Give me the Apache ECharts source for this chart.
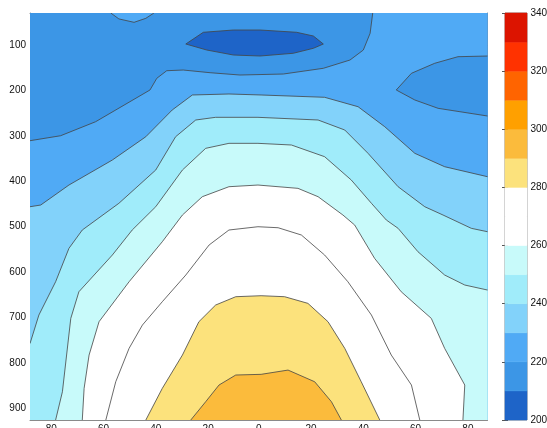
<!DOCTYPE html>
<html>
<head>
<meta charset="utf-8">
<script src="https://cdn.jsdelivr.net/npm/echarts@6/dist/echarts.min.js"></script>
<style>
html, body { margin: 0; padding: 0; background: #fff; }
#main { width: 547px; height: 428px; }
</style>
</head>
<body>
<div id="main"></div>
<script>
// 等值线区间与配色（色标从下往上）
var levels = [200, 210, 220, 230, 240, 250, 260, 270, 280, 290, 300, 310, 320, 330, 340];
var bandColors = ['#1e64c8', '#3c96e6', '#50aaf5', '#82d2fa', '#a0ecfa', '#c8fafa', '#ffffff', '#ffffff',
    '#fce27c', '#fbbb3c', '#ffa000', '#ff6400', '#ff3200', '#dc1400'];

// 坐标轴刻度
var latTicks = [-80, -60, -40, -20, 0, 20, 40, 60, 80];
var presTicks = [100, 200, 300, 400, 500, 600, 700, 800, 900];
var latRange = [-87.5, 87.5];
var presRange = [30, 925];

// 等值线 [纬度, 气压]
var c210 = [[-27.9, 98.2], [-21.2, 72.4], [-9.7, 67.4], [0.5, 67.4], [14.5, 72.4], [20.9, 80.6], [24.7, 98.2],
    [20.9, 107.6], [13.2, 118.6], [0.5, 124.6], [-9.7, 122.4], [-19.9, 111.4], [-27.9, 98.2]];
var c220 = [[-87.5, 310.8], [-75.8, 299.9], [-62.4, 269.1], [-41.6, 199.3], [-39.0, 173.6], [-35.2, 156.9],
    [-28.9, 155.4], [-18.6, 161.3], [-7.2, 166.4], [9.4, 164.2], [24.7, 151.6], [34.9, 133.4], [40.0, 111.4],
    [42.6, 74.6], [43.6, 30]];
var c220arc = [[-56.6, 30], [-53.5, 43], [-47.7, 50.5], [-43.2, 41.7], [-40.1, 30]];
var c220isle = [[87.5, 124.6], [76.2, 126.1], [67.3, 140.6], [58.4, 162.6], [52.6, 199.3], [59.7, 221.3],
    [68.6, 239.6], [87.5, 256.5]];
var c230 = [[-87.5, 456.0], [-83.4, 452.3], [-72.6, 408.3], [-56.0, 353.3], [-43.2, 302.1], [-33.1, 243.3],
    [-25.4, 210.3], [-11.4, 208.1], [0.9, 210.3], [25.2, 215.4], [38.0, 236.1], [48.2, 280.1], [59.7, 338.6],
    [71.1, 368.0], [87.5, 390.0]];
var c240 = [[-87.5, 756.9], [-84.1, 694.2], [-77.7, 621.0], [-72.6, 547.5], [-67.5, 507.2], [-53.5, 448.5],
    [-39.4, 375.3], [-31.8, 302.1], [-24.1, 265.3], [-16.5, 259.4], [-0.3, 259.4], [22.7, 265.3], [32.9, 287.3],
    [41.8, 338.6], [53.3, 412.0], [63.5, 456.0], [70.5, 474.3], [81.3, 503.5], [87.5, 511.0]];
var c250 = [[-77.7, 925], [-75.1, 862.9], [-71.9, 701.5], [-68.8, 643.0], [-56.0, 562.2], [-48.4, 507.2],
    [-39.4, 456.0], [-29.2, 375.3], [-20.3, 327.6], [-11.4, 316.6], [-0.3, 316.6], [12.5, 320.3], [25.2, 346.0],
    [35.4, 397.3], [43.1, 448.5], [48.8, 485.2], [53.3, 503.5], [60.9, 555.0], [71.1, 606.2], [78.8, 628.2],
    [87.5, 639.2]];
var c260 = [[-67.5, 925], [-66.8, 855.4], [-64.9, 782.2], [-61.1, 708.9], [-49.6, 621.0], [-36.9, 533.0],
    [-29.2, 474.3], [-21.6, 434.0], [-11.4, 412.0], [-0.3, 408.3], [15.0, 415.6], [22.7, 434.0], [32.2, 474.3],
    [36.7, 496.3], [44.3, 569.5], [54.5, 643.0], [66.0, 701.5], [71.1, 767.4], [78.8, 848.1], [78.1, 925]];
var c270 = [[-58.5, 925], [-54.7, 840.9], [-49.6, 767.4], [-44.5, 716.2], [-36.9, 664.9], [-27.9, 606.2],
    [-19.0, 540.2], [-11.4, 507.2], [-0.3, 500.0], [7.4, 502.2], [16.3, 518.2], [25.2, 562.2], [34.1, 621.0],
    [43.1, 694.2], [50.7, 782.2], [58.4, 848.1], [61.6, 925]];
var c280 = [[-43.2, 925], [-36.9, 855.4], [-29.2, 782.2], [-22.9, 708.9], [-16.5, 672.2], [-8.8, 653.9],
    [0.9, 651.7], [9.9, 653.9], [18.8, 668.5], [26.5, 708.9], [32.9, 767.4], [39.2, 840.9], [46.3, 925]];
var c290 = [[-26.0, 925], [-20.3, 884.8], [-15.2, 848.1], [-8.8, 826.1], [0.9, 824.6], [11.2, 815.2],
    [21.4, 840.9], [27.8, 884.8], [31.6, 925]];

function band(v) {
    return bandColors[levels.indexOf(v)];
}

var L0 = latRange[0], L1 = latRange[1], P0 = presRange[0], P1 = presRange[1];

// 填色区域（按顺序覆盖）
var fills = [
    {pts: [[L0, P0], [L1, P0], [L1, P1], [L0, P1]], color: band(210)},
    {pts: c210, color: band(200)},
    {pts: c220.concat([[L1, P0], [L1, P1], [L0, P1]]), color: band(220)},
    {pts: c220arc, color: band(220)},
    {pts: c220isle, color: band(210)},
    {pts: c230.concat([[L1, P1], [L0, P1]]), color: band(230)},
    {pts: c240.concat([[L1, P1], [L0, P1]]), color: band(240)},
    {pts: c250.concat([[L1, P1]]), color: band(250)},
    {pts: c260, color: band(260)},
    {pts: c270, color: band(270)},
    {pts: c280, color: band(280)},
    {pts: c290, color: band(290)}
];
var lines = [c210, c220, c220arc, c220isle, c230, c240, c250, c260, c270, c280, c290];

var chart = echarts.init(document.getElementById('main'));
var font = 'Liberation Sans, Arial, sans-serif';
var labelStyle = {fontSize: 10, color: '#111', fontFamily: font};
var tickStyle = {color: '#777', width: 1};
var frameLine = {show: true, onZero: false, lineStyle: {color: '#8a8a8a', width: 1}};

var option = {
    animation: false,
    grid: [
        {left: 30, right: 59.5, top: 13, bottom: 8, outerBoundsMode: 'none'},
        {left: 505, width: 22, top: 13, bottom: 8, outerBoundsMode: 'none',
            show: true, borderColor: '#8a8a8a', borderWidth: 1}
    ],
    xAxis: [
        {
            type: 'value', gridIndex: 0, min: L0, max: L1, position: 'bottom',
            axisLine: frameLine, splitLine: {show: false},
            axisTick: {inside: true, length: 5, lineStyle: tickStyle, customValues: latTicks},
            axisLabel: Object.assign({margin: 4, customValues: latTicks}, labelStyle)
        },
        {
            type: 'value', gridIndex: 0, min: L0, max: L1, position: 'top',
            axisLine: frameLine, splitLine: {show: false},
            axisTick: {inside: true, length: 5, lineStyle: tickStyle, customValues: latTicks},
            axisLabel: {show: false}
        },
        {type: 'value', gridIndex: 1, min: 0, max: 1, show: false}
    ],
    yAxis: [
        {
            type: 'value', gridIndex: 0, min: P0, max: P1, inverse: true, position: 'left',
            axisLine: frameLine, splitLine: {show: false},
            axisTick: {inside: true, length: 5, lineStyle: tickStyle, customValues: presTicks},
            axisLabel: Object.assign({margin: 4, customValues: presTicks}, labelStyle)
        },
        {
            type: 'value', gridIndex: 0, min: P0, max: P1, inverse: true, position: 'right',
            axisLine: frameLine, splitLine: {show: false},
            axisTick: {inside: true, length: 5, lineStyle: tickStyle, customValues: presTicks},
            axisLabel: {show: false}
        },
        {
            type: 'value', gridIndex: 1, min: 200, max: 340, interval: 20, position: 'right',
            axisLine: {show: false}, splitLine: {show: false},
            axisTick: {inside: true, length: 3, lineStyle: {color: '#555'}},
            axisLabel: Object.assign({margin: 3.5}, labelStyle)
        },
        {
            type: 'value', gridIndex: 1, min: 200, max: 340, interval: 20, position: 'left',
            axisLine: {show: false}, splitLine: {show: false},
            axisTick: {inside: true, length: 3, lineStyle: {color: '#555'}},
            axisLabel: {show: false}
        }
    ],
    series: [
        {
            // 填色
            type: 'custom',
            xAxisIndex: 0, yAxisIndex: 0,
            clip: true,
            z: 1,
            data: fills.map(function (f) { return f.pts[0]; }),
            renderItem: function (params, api) {
                var f = fills[params.dataIndex];
                return {
                    type: 'polygon',
                    shape: {points: f.pts.map(function (d) { return api.coord(d); })},
                    style: {fill: f.color}
                };
            }
        },
        {
            // 等值线
            type: 'custom',
            xAxisIndex: 0, yAxisIndex: 0,
            clip: true,
            z: 2,
            data: lines.map(function (l) { return l[0]; }),
            renderItem: function (params, api) {
                var l = lines[params.dataIndex];
                return {
                    type: 'polyline',
                    shape: {points: l.map(function (d) { return api.coord(d); })},
                    style: {fill: null, stroke: '#444', lineWidth: 0.8}
                };
            }
        },
        {
            // 色标
            type: 'custom',
            xAxisIndex: 2, yAxisIndex: 2,
            z: 1,
            data: levels.slice(0, -1).map(function (v, i) { return [0, v, i]; }),
            renderItem: function (params, api) {
                var lo = api.value(1);
                var a = api.coord([0, lo]);
                var b = api.coord([1, lo + 10]);
                var c = bandColors[api.value(2)];
                return {
                    type: 'rect',
                    shape: {x: a[0], y: b[1], width: b[0] - a[0], height: a[1] - b[1]},
                    style: {fill: c, stroke: c, lineWidth: 0.5}
                };
            }
        }
    ]
};
chart.setOption(option);
</script>
</body>
</html>
